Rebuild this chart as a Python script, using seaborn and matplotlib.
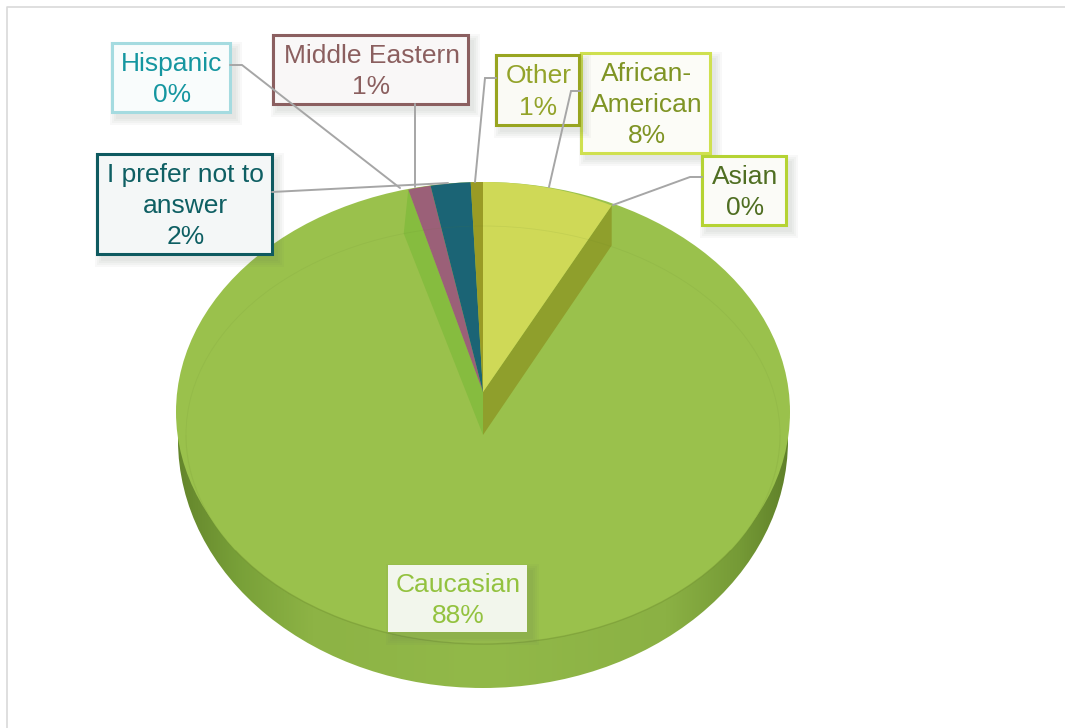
import numpy as np
import matplotlib
matplotlib.use("Agg")
import matplotlib.pyplot as plt
from matplotlib.colors import LinearSegmentedColormap
from matplotlib.patches import Arc, Ellipse, Polygon, Rectangle
import seaborn as sns

# Survey shares, clockwise from twelve o'clock
categories = ["African-\nAmerican", "Asian", "Caucasian", "Hispanic",
              "Middle Eastern", "I prefer not to\nanswer", "Other"]
shares = [7.6, 0.0, 88.1, 0.0, 1.3, 2.3, 0.7]
slice_colors = ["#CFD957", "#A9C23F", "#9AC14C", "#2A9AA5",
                "#9B6078", "#1B6475", "#9A9B25"]
text_colors = ["#7F9424", "#4F6E22", "#93C23F", "#1596A0",
               "#8B5F5F", "#0E5F63", "#93A32A"]
edge_colors = ["#CFE04F", "#B5D334", None, "#A5DBE0",
               "#8B5F60", "#0E5A60", "#98A520"]

sns.set_theme(style="white")
plt.rcParams["font.family"] = ["Liberation Sans", "DejaVu Sans"]

W, H = 1065, 728
fig = plt.figure(figsize=(W / 100, H / 100), dpi=100, facecolor="white")


def pixel_axes():
    ax = fig.add_axes([0, 0, 1, 1], facecolor="none")
    ax.set_xlim(0, W)
    ax.set_ylim(H, 0)
    ax.axis("off")
    return ax


def pie_axes(cx, cy, rx, ry, visible):
    """Pie on a full-figure axes whose limits squash the unit circle to an ellipse."""
    ax = fig.add_axes([0, 0, 1, 1], facecolor="none")
    wedges, _ = ax.pie(shares, colors=slice_colors, startangle=90,
                       counterclock=False, radius=1, center=(0, 0),
                       wedgeprops={"linewidth": 0})
    ax.set_aspect("auto")
    ax.set_xlim(-cx / rx, (W - cx) / rx)
    ax.set_ylim(-(H - cy) / ry, cy / ry)
    ax.axis("off")
    for w, name in zip(wedges, categories):
        w.set_visible(visible(name))
    return ax


def boundary(cx, cy, rx, ry, fraction):
    """Point on an ellipse rim, a share of the way round clockwise from the top."""
    a = 2 * np.pi * fraction / 100
    return cx + rx * np.sin(a), cy - ry * np.cos(a)


CX = 483
TOP_Y, TOP_RX, TOP_RY = 392, 280, 210      # small slices, pulled out of the pie
MID_Y, MID_RX, MID_RY = 435, 297, 209      # large slice, inner face
CUT_DEPTH = 40                             # visible height of the cut walls at the rim
after_african = shares[0] + shares[1]
before_caucasian_end = after_african + shares[2]

# Base: chart frame, side wall with a horizontal shade, bevelled rim
base = pixel_axes()
base.plot([7, 7, W], [H, 7, 7], color="#D9D9D9", lw=1.2, solid_capstyle="butt")
wall_cmap = LinearSegmentedColormap.from_list(
    "wall", [(0, "#64852C"), (0.1, "#78A038"), (0.22, "#8DB345"),
             (0.5, "#92B949"), (0.8, "#8BB144"), (0.92, "#759A36"), (1, "#5F8029")])
wall_image = base.imshow(np.linspace(0, 1, 256)[None, :], cmap=wall_cmap, aspect="auto",
                         extent=(176, 790, 688, 220), zorder=1)
wall_shape = Ellipse((CX, 440), 610, 496, transform=base.transData,
                     facecolor="none", edgecolor="none")
base.add_patch(wall_shape)
wall_image.set_clip_path(wall_shape)
base.set_xlim(0, W)
base.set_ylim(H, 0)
base.add_patch(Ellipse((CX, 412), 614, 460, facecolor="#9AC14C", edgecolor="none", zorder=2))

# Large slice, then the exposed walls of the cut, then the small slices
pie_axes(CX, MID_Y, MID_RX, MID_RY, lambda n: n == "Caucasian")

walls = pixel_axes()
apex = (CX, TOP_Y)
tip = (CX, MID_Y)
right_rim = boundary(CX, TOP_Y, TOP_RX, TOP_RY, after_african)
left_rim = boundary(CX, TOP_Y, TOP_RX, TOP_RY, before_caucasian_end)
left_low = boundary(CX, MID_Y, MID_RX, MID_RY, before_caucasian_end)
walls.add_patch(Polygon([apex, right_rim, (right_rim[0], right_rim[1] + CUT_DEPTH), tip],
                        closed=True, facecolor="#8F9F2C", edgecolor="none"))
walls.add_patch(Polygon([apex, left_rim, left_low, tip], closed=True,
                        facecolor="#86BC3F", edgecolor="none"))

pie_axes(CX, TOP_Y, TOP_RX, TOP_RY, lambda n: n != "Caucasian")

# Labels with leader lines and soft-shadowed boxes
top = pixel_axes()
# Bevel line: crisp along the near edge, barely there along the far edge
top.add_patch(Arc((CX, MID_Y), 2 * MID_RX, 2 * MID_RY, theta1=180, theta2=360,
                  edgecolor="#5F7F2A", lw=0.6, alpha=0.10))
top.add_patch(Arc((CX, MID_Y), 2 * MID_RX, 2 * MID_RY, theta1=25, theta2=155,
                  edgecolor="#6F8F2F", lw=1.0, alpha=0.45))
top.add_patch(Arc((CX, MID_Y), 2 * MID_RX, 2 * MID_RY, theta1=0, theta2=25,
                  edgecolor="#6F8F2F", lw=0.8, alpha=0.15))
top.add_patch(Arc((CX, MID_Y), 2 * MID_RX, 2 * MID_RY, theta1=155, theta2=180,
                  edgecolor="#6F8F2F", lw=0.8, alpha=0.15))

leaders = {
    "Hispanic": ([230, 242, 400], [65, 65, 188]),
    "Middle Eastern": ([415, 415], [104, 187]),
    "I prefer not to\nanswer": ([272, 448], [192, 183]),
    "Other": ([496, 485, 475], [78, 78, 182]),
    "African-\nAmerican": ([581, 571, 549], [91, 91, 187]),
    "Asian": ([702, 690, 613], [177, 177, 205]),
}
for xs, ys in leaders.values():
    top.plot(xs, ys, color="#A6A6A6", lw=1.4, solid_joinstyle="miter")

boxes = {
    "Hispanic": (112, 43, 230, 112),
    "Middle Eastern": (273, 35, 468, 104),
    "I prefer not to\nanswer": (97, 154, 272, 254),
    "Other": (496, 55, 579, 125),
    "African-\nAmerican": (581, 53, 710, 153),
    "Asian": (702, 156, 786, 225),
    "Caucasian": (388, 565, 527, 632),
}
box_faces = {"Caucasian": "#F2F6EC", "Hispanic": "#F9FCFC", "Middle Eastern": "#F9F7F7",
             "I prefer not to\nanswer": "#F4F7F7", "Other": "#FAFAF5",
             "African-\nAmerican": "#FCFCF7", "Asian": "#FBFBF7"}

for name, share, text_c, edge_c in zip(categories, shares, text_colors, edge_colors):
    x0, y0, x1, y1 = boxes[name]
    for grow in (7, 5, 3, 1):
        top.add_patch(Rectangle((x0 + 5 - grow, y0 + 6 - grow),
                                x1 - x0 + 2 * grow, y1 - y0 + 2 * grow,
                                facecolor="#5F6F5F", edgecolor="none", alpha=0.045))
    top.add_patch(Rectangle((x0, y0), x1 - x0, y1 - y0, facecolor=box_faces[name],
                            edgecolor=edge_c if edge_c else "none", lw=2.2))
    top.text((x0 + x1) / 2 + 1, (y0 + y1) / 2 + 2, f"{name}\n{share:.0f}%",
             color=text_c, fontsize=19, ha="center", va="center",
             multialignment="center", linespacing=1.37)

fig.savefig("out.png", dpi=100, facecolor="white")
